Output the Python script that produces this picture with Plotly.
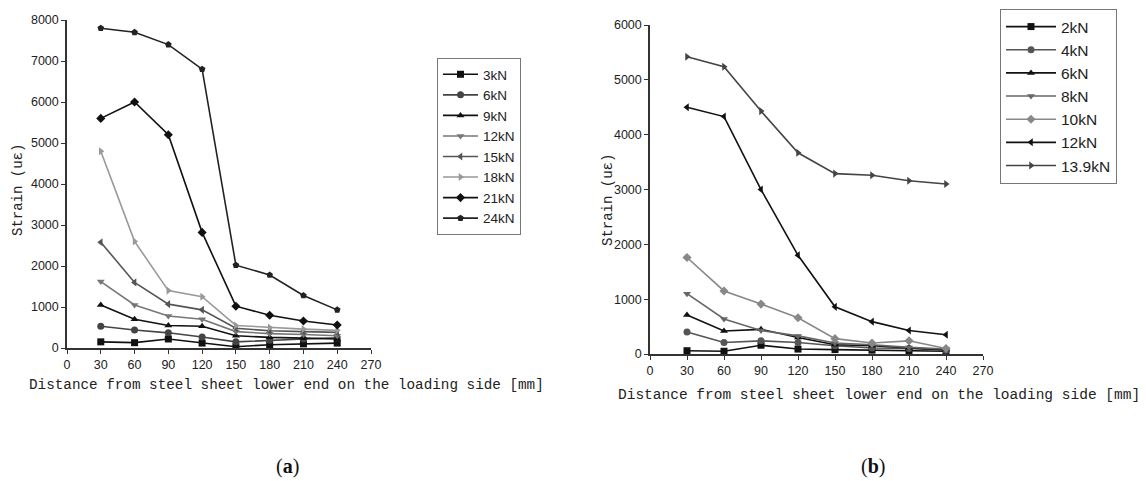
import plotly.graph_objects as go

x_mm = [30, 60, 90, 120, 150, 180, 210, 240]

# Panel (a)
a_names = ["3kN", "6kN", "9kN", "12kN", "15kN", "18kN", "21kN", "24kN"]
a_3 = [150, 130, 220, 120, 30, 80, 100, 120]
a_6 = [530, 440, 370, 270, 150, 190, 220, 250]
a_9 = [1050, 700, 550, 530, 300, 260, 240, 220]
a_12 = [1620, 1050, 780, 700, 400, 350, 330, 300]
a_15 = [2580, 1600, 1070, 930, 480, 420, 400, 380]
a_18 = [4800, 2600, 1400, 1250, 550, 500, 460, 430]
a_21 = [5600, 6000, 5200, 2820, 1020, 800, 660, 560]
a_24 = [7800, 7700, 7400, 6800, 2020, 1780, 1280, 930]
a_vals = [a_3, a_6, a_9, a_12, a_15, a_18, a_21, a_24]

# Panel (b)
b_names = ["2kN", "4kN", "6kN", "8kN", "10kN", "12kN", "13.9kN"]
b_2 = [60, 50, 160, 90, 80, 70, 60, 50]
b_4 = [400, 210, 240, 210, 150, 110, 100, 70]
b_6 = [710, 420, 450, 300, 170, 150, 110, 80]
b_8 = [1100, 640, 430, 330, 200, 170, 120, 90]
b_10 = [1760, 1150, 910, 660, 280, 200, 240, 100]
b_12 = [4500, 4330, 3000, 1800, 860, 590, 430, 350]
b_139 = [5420, 5240, 4430, 3670, 3290, 3260, 3160, 3100]
b_vals = [b_2, b_4, b_6, b_8, b_10, b_12, b_139]

x_ticks = [0, 30, 60, 90, 120, 150, 180, 210, 240, 270]
a_yticks = [0, 1000, 2000, 3000, 4000, 5000, 6000, 7000, 8000]
b_yticks = [0, 1000, 2000, 3000, 4000, 5000, 6000]

a_style = [("square", "#111111"), ("circle", "#444444"), ("triangle-up", "#111111"),
           ("triangle-down", "#777777"), ("triangle-left", "#555555"),
           ("triangle-right", "#999999"), ("diamond", "#111111"), ("pentagon", "#222222")]
b_style = [("square", "#111111"), ("circle", "#555555"), ("triangle-up", "#111111"),
           ("triangle-down", "#666666"), ("diamond", "#888888"),
           ("triangle-left", "#111111"), ("triangle-right", "#444444")]

# page body has an 8px margin, so the figure is drawn 8px in from the window corner
OFF = 8
W, H = 1146 - OFF, 481 - OFF
fig = go.Figure()

for name, vals, (sym, col) in zip(a_names, a_vals, a_style):
    fig.add_trace(go.Scatter(x=x_mm, y=vals, name=name, mode="lines+markers",
                             line=dict(color=col, width=1.6),
                             marker=dict(symbol=sym, size=7, color=col),
                             xaxis="x", yaxis="y", legend="legend"))
for name, vals, (sym, col) in zip(b_names, b_vals, b_style):
    fig.add_trace(go.Scatter(x=x_mm, y=vals, name=name, mode="lines+markers",
                             line=dict(color=col, width=1.6),
                             marker=dict(symbol=sym, size=7, color=col),
                             xaxis="x2", yaxis="y2", legend="legend2"))

def px_x(p):
    return (p - OFF) / W

def px_y(p):
    return 1 - (p - OFF) / H

axis_common = dict(showgrid=False, zeroline=False, showline=True, linecolor="#333333",
                   linewidth=1.5, ticks="outside", ticklen=4, tickcolor="#333333",
                   automargin=False,
                   tickfont=dict(family="Liberation Sans, Arial", size=12.5, color="#222222"))

fig.update_layout(
    width=W, height=H,
    margin=dict(l=0, r=0, t=0, b=0, pad=0, autoexpand=False),
    paper_bgcolor="white", plot_bgcolor="white",
    showlegend=True,
    xaxis=dict(domain=[px_x(67), px_x(371)], range=[0, 270], tickvals=x_ticks,
               anchor="y", **axis_common),
    yaxis=dict(domain=[px_y(348), px_y(20)], range=[0, 8000], tickvals=a_yticks,
               anchor="x", **axis_common),
    xaxis2=dict(domain=[px_x(650), px_x(983)], range=[0, 270], tickvals=x_ticks,
                anchor="y2", **axis_common),
    yaxis2=dict(domain=[px_y(354), px_y(25)], range=[0, 6000], tickvals=b_yticks,
                anchor="x2", **axis_common),
    legend=dict(x=px_x(437), y=px_y(58), xanchor="left", yanchor="top",
                bordercolor="#777777", borderwidth=1, bgcolor="white",
                font=dict(family="Liberation Sans, Arial", size=13.5, color="#222222"),
                tracegroupgap=0, itemwidth=35),
    legend2=dict(x=px_x(1000), y=px_y(9), xanchor="left", yanchor="top",
                 bordercolor="#777777", borderwidth=1, bgcolor="white",
                 font=dict(family="Liberation Sans, Arial", size=15.5, color="#222222"),
                 tracegroupgap=0, itemwidth=50),
)

mono_a = dict(family="Liberation Mono, DejaVu Sans Mono, monospace", size=14.3, color="#222222")
mono_b = dict(family="Liberation Mono, DejaVu Sans Mono, monospace", size=14.5, color="#222222")
mono_y = dict(family="Liberation Mono, DejaVu Sans Mono, monospace", size=14, color="#222222")
cap = dict(family="Liberation Serif, Times New Roman", size=20, color="#111111")
ann = [
    dict(text="Strain (uε)", x=px_x(18), y=px_y(190), textangle=-90, font=mono_y),
    dict(text="Strain (uε)", x=px_x(608), y=px_y(200), textangle=-90, font=mono_y),
    dict(text="Distance from steel sheet lower end on the loading side [mm]",
         x=px_x(286), y=px_y(385), font=mono_a),
    dict(text="Distance from steel sheet lower end on the loading side [mm]",
         x=px_x(879), y=px_y(395), font=mono_b),
    dict(text="(<b>a</b>)", x=px_x(287), y=px_y(466), font=cap),
    dict(text="(<b>b</b>)", x=px_x(873), y=px_y(466), font=cap),
]
for a in ann:
    a.update(xref="paper", yref="paper", showarrow=False, xanchor="center", yanchor="middle")
fig.update_layout(annotations=ann)

fig.write_html("out.html")
